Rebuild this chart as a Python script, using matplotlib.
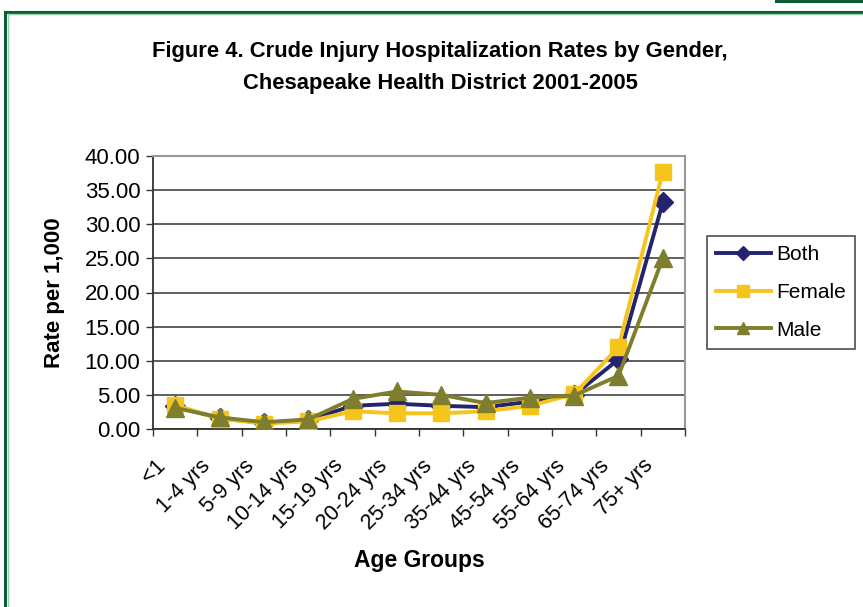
import numpy as np
import matplotlib
matplotlib.use("Agg")
import matplotlib.pyplot as plt
import matplotlib.transforms as mtrans
from matplotlib.lines import Line2D

# --- data ---
age_groups = ["<1", "1-4 yrs", "5-9 yrs", "10-14 yrs", "15-19 yrs", "20-24 yrs",
              "25-34 yrs", "35-44 yrs", "45-54 yrs", "55-64 yrs", "65-74 yrs", "75+ yrs"]
both = [3.3, 1.6, 0.9, 1.3, 3.4, 3.7, 3.4, 3.2, 4.0, 5.0, 10.2, 33.2]
female = [3.5, 1.5, 0.8, 1.1, 2.6, 2.3, 2.3, 2.6, 3.4, 5.1, 12.0, 37.7]
male = [3.1, 1.7, 1.0, 1.4, 4.4, 5.5, 5.0, 3.8, 4.6, 4.9, 7.8, 25.0]

W, H = 863, 607
fig = plt.figure(figsize=(W / 100, H / 100), dpi=100)
plt.rcParams['font.family'] = ['Liberation Sans', 'DejaVu Sans']

# green page frame
def fx(px): return px / W
def fy(py): return 1 - py / H
fig.add_artist(Line2D([fx(5), fx(5)], [fy(12), 0], color="#0b5e34", lw=2.2))
fig.add_artist(Line2D([fx(5), 1], [fy(12), fy(12)], color="#0b5e34", lw=2.2))
fig.add_artist(Line2D([fx(7.5), fx(7.5)], [fy(14), 0], color="#9ccfb0", lw=1))
fig.add_artist(Line2D([fx(7.5), 1], [fy(14), fy(14)], color="#9ccfb0", lw=1))
fig.add_artist(Line2D([fx(776), 1], [fy(1), fy(1)], color="#0b5e34", lw=2.2))

# plot area (pixel box 153..685 x 156..429)
ax_w = (685 - 153) / W
ax = fig.add_axes([fx(153), fy(429), ax_w, (429 - 156) / H])
x = np.arange(len(age_groups))

ax.plot(x, both, color="#23236f", lw=2.8, marker="D", ms=10, label="Both", zorder=3)
ax.plot(x, female, color="#f6c51d", lw=2.8, marker="s", ms=12, label="Female", zorder=4)
ax.plot(x, male, color="#7e7e2e", lw=2.8, marker="^", ms=13, label="Male", zorder=5)

ax.set_xlim(-0.5, len(age_groups) - 0.5)
ax.set_ylim(0, 40)
ax.set_yticks(np.arange(0, 41, 5))
ax.set_yticklabels(["%.2f" % v for v in np.arange(0, 41, 5)], fontsize=16)
ax.yaxis.grid(True, color="#333333", lw=1.1)
ax.set_axisbelow(True)
ax.tick_params(axis="y", length=5, width=1, color="#333333", pad=4)

ax.set_xticks(np.arange(-0.5, len(age_groups), 1.0))
ax.set_xticklabels([])
ax.tick_params(axis="x", length=5, width=1, color="#333333")
ax.set_xticks(x, minor=True)
ax.set_xticklabels(age_groups, minor=True, rotation=45, ha="right", va="top",
                   rotation_mode="anchor", fontsize=15.5)
ax.tick_params(axis="x", which="minor", length=0, pad=16)
shift = mtrans.ScaledTranslation(-20 / 100, -4 / 100, fig.dpi_scale_trans)
for lbl in ax.get_xticklabels(minor=True):
    lbl.set_transform(lbl.get_transform() + shift)

for s in ["top", "right"]:
    ax.spines[s].set_color("#999999")
    ax.spines[s].set_linewidth(1.5)
for s in ["left", "bottom"]:
    ax.spines[s].set_color("#333333")
    ax.spines[s].set_linewidth(1.3)

ax.set_ylabel("Rate per 1,000", fontsize=16, fontweight="bold", labelpad=14)
fig.text(fx(419), fy(560), "Age Groups", fontsize=16.5, fontweight="bold",
         ha="center", va="center")

fig.text(fx(440), fy(51), "Figure 4. Crude Injury Hospitalization Rates by Gender,",
         fontsize=15.8, fontweight="bold", ha="center", va="center")
fig.text(fx(440), fy(83), "Chesapeake Health District 2001-2005",
         fontsize=15.8, fontweight="bold", ha="center", va="center")

leg = ax.legend(loc="center left", bbox_to_anchor=((707 - 153) / (685 - 153), 0.5),
                frameon=True, fancybox=False, edgecolor="#222222", fontsize=15,
                handlelength=2.6, handletextpad=0.25, labelspacing=0.9, borderpad=0.45,
                borderaxespad=0, markerscale=0.7)
leg.get_frame().set_linewidth(1.2)

fig.savefig("out.png", dpi=100)
